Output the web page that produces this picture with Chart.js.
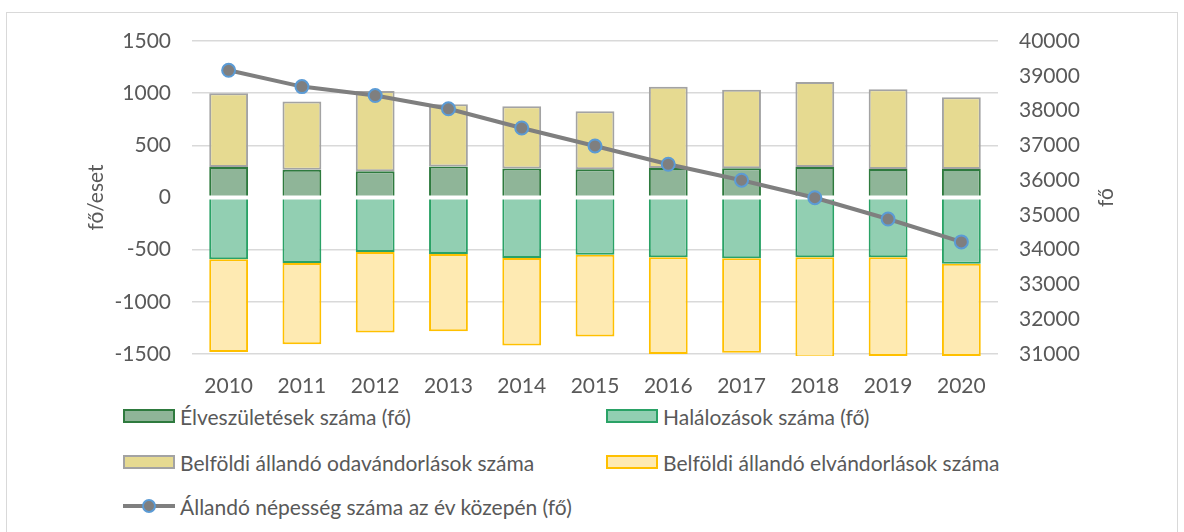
<!DOCTYPE html>
<html>
<head>
<meta charset="utf-8">
<script src="https://cdn.jsdelivr.net/npm/chart.js@4"></script>
<style>
  body { margin: 0; background: #fff; font-family: Lato, sans-serif; }
  #wrap { position: relative; width: 1184px; height: 532px; overflow: hidden; }
  #frame { position: absolute; left: 6px; top: 12px; width: 1170px; height: 560px; border: 1.5px solid #d9d9d9; }
  #chart { position: absolute; left: 0; top: 0; }
  .leg { position: absolute; display: flex; align-items: center; font-size: 21px; color: #595959; white-space: nowrap; }
  .box { box-sizing: border-box; width: 52px; height: 14px; margin-right: 5px; border: 2px solid; }
</style>
</head>
<body>
<div id="wrap">
  <div id="frame"></div>
  <canvas id="chart" width="1184" height="400"></canvas>
  <div id="legend"></div>
</div>
<script>
var years = ['2010', '2011', '2012', '2013', '2014', '2015', '2016', '2017', '2018', '2019', '2020'];
var births = [293, 267, 251, 296, 277, 270, 283, 280, 293, 274, 274];
var inMigration = [707, 652, 770, 598, 598, 557, 779, 753, 814, 763, 687];
var deaths = [-593, -627, -522, -541, -579, -548, -573, -583, -573, -573, -634];
var outMigration = [-887, -780, -773, -741, -840, -785, -927, -905, -957, -947, -886];
var population = [39158, 38689, 38431, 38050, 37498, 36982, 36456, 35998, 35494, 34881, 34223];

var txt = '#595959';
var font = { family: 'Lato', size: 21 };
var plain = function(v) { return String(v); };

var extras = {
    id: 'extras',
    beforeDatasetDraw: function(chart, args) {
        if (args.index !== 4) return;
        var ctx = chart.ctx, a = chart.chartArea;
        var y = chart.scales.y.getPixelForValue(0);
        ctx.save();
        ctx.strokeStyle = '#fff';
        ctx.lineWidth = 4;
        ctx.beginPath();
        ctx.moveTo(a.left, y);
        ctx.lineTo(a.right, y);
        ctx.stroke();
        ctx.restore();
    },
    afterDraw: function(chart) {
        var ctx = chart.ctx, a = chart.chartArea;
        var cy = (a.top + a.bottom) / 2;
        ctx.save();
        ctx.fillStyle = txt;
        ctx.font = '21px Lato';
        ctx.textAlign = 'center';
        ctx.textBaseline = 'middle';
        [[96, 'fő/eset'], [1106, 'fő']].forEach(function(t) {
            ctx.save();
            ctx.translate(t[0], cy);
            ctx.rotate(-Math.PI / 2);
            ctx.fillText(t[1], 0, 0);
            ctx.restore();
        });
        ctx.restore();
    }
};

var barOpts = { barPercentage: 0.53, categoryPercentage: 1, borderWidth: 2, order: 1, yAxisID: 'y', clip: 2 };

var chart = new Chart(document.getElementById('chart').getContext('2d'), {
    type: 'bar',
    data: {
        labels: years,
        datasets: [
            Object.assign({ label: 'Élveszületések száma (fő)', data: births, backgroundColor: '#8fb598', borderColor: '#2e7a3e' }, barOpts),
            Object.assign({ label: 'Belföldi állandó odavándorlások száma', data: inMigration, backgroundColor: '#e6da91', borderColor: '#a3a3a3', borderSkipped: false }, barOpts),
            Object.assign({ label: 'Halálozások száma (fő)', data: deaths, backgroundColor: '#92cfb2', borderColor: '#2aa266' }, barOpts),
            Object.assign({ label: 'Belföldi állandó elvándorlások száma', data: outMigration, backgroundColor: '#feeab2', borderColor: '#ffc000', borderSkipped: false }, barOpts),
            {
                type: 'line',
                label: 'Állandó népesség száma az év közepén (fő)',
                data: population,
                yAxisID: 'y1',
                order: 0,
                borderColor: '#7f7f7f',
                borderWidth: 4,
                pointRadius: 6.5,
                pointBackgroundColor: '#7f7f7f',
                pointBorderColor: '#5b9bd5',
                pointBorderWidth: 2,
                tension: 0
            }
        ]
    },
    options: {
        responsive: false,
        animation: false,
        layout: { padding: { top: 41, left: 0, right: 0, bottom: 0 } },
        plugins: { legend: { display: false }, tooltip: { enabled: false } },
        scales: {
            x: {
                stacked: true,
                grid: { display: false },
                border: { display: false },
                ticks: { color: txt, font: font, padding: 12, maxRotation: 0 },
                afterFit: function(s) { s.height = 46; }
            },
            y: {
                stacked: true,
                min: -1500, max: 1500,
                ticks: { stepSize: 500, color: txt, font: font, padding: 21, callback: plain },
                grid: { color: '#d9d9d9', lineWidth: 1.5, drawTicks: false },
                border: { display: false },
                afterFit: function(s) { s.width = 192; }
            },
            y1: {
                position: 'right',
                min: 31000, max: 40000,
                ticks: { stepSize: 1000, color: txt, font: font, padding: 21, callback: plain },
                grid: { display: false, drawTicks: false },
                border: { display: false },
                afterFit: function(s) { s.width = 186; }
            }
        }
    },
    plugins: [extras]
});

// HTML legend in two columns, built from the datasets
var legendPos = [[123, 416, 0], [606, 416, 2], [123, 462, 1], [606, 462, 3], [123, 506, 4]];
var legend = document.getElementById('legend');
legendPos.forEach(function(p) {
    var ds = chart.data.datasets[p[2]];
    var el = document.createElement('div');
    el.className = 'leg';
    el.style.left = p[0] + 'px';
    el.style.top = (p[1] - 13) + 'px';
    el.style.height = '26px';
    var mark;
    if (ds.type === 'line') {
        mark = document.createElement('canvas');
        mark.width = 54; mark.height = 20;
        mark.style.marginRight = '3px';
        var c = mark.getContext('2d');
        c.strokeStyle = ds.borderColor; c.lineWidth = 4;
        c.beginPath(); c.moveTo(0, 10); c.lineTo(52, 10); c.stroke();
        c.fillStyle = ds.pointBackgroundColor; c.strokeStyle = ds.pointBorderColor; c.lineWidth = 2;
        c.beginPath(); c.arc(26, 10, 6, 0, Math.PI * 2); c.fill(); c.stroke();
    } else {
        mark = document.createElement('span');
        mark.className = 'box';
        mark.style.background = ds.backgroundColor;
        mark.style.borderColor = ds.borderColor;
    }
    el.appendChild(mark);
    el.appendChild(document.createTextNode(ds.label));
    legend.appendChild(el);
});
</script>
</body>
</html>
